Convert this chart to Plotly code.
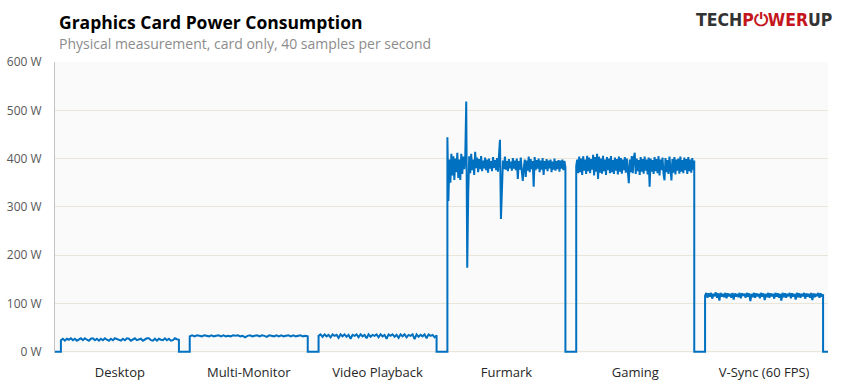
import numpy as np
import plotly.graph_objects as go

# ---------------- data ----------------
tests = ["Desktop", "Multi-Monitor", "Video Playback", "Furmark", "Gaming", "V-Sync (60 FPS)"]
# test time windows in seconds (start, end)
test_start = [3.0, 68.5, 134.0, 199.5, 265.0, 330.5]
test_end = [63.0, 128.5, 194.0, 259.5, 325.0, 390.5]
t_total = 393.0

y_ticks = [0, 100, 200, 300, 400, 500, 600]
y_tick_labels = ["0 W", "100 W", "200 W", "300 W", "400 W", "500 W", "600 W"]

desktop_w = [24, 27, 23, 27, 25, 28, 24, 27, 23, 26, 28, 24, 28, 25, 23, 27, 28, 24, 27, 23,
             27, 24, 28, 25, 23, 27, 24, 28, 26, 24, 23, 27, 24, 28, 27, 23, 26, 28, 24, 25,
             27, 23, 26, 28, 28, 24, 23, 27, 23, 27, 25, 24, 28, 24, 27, 23, 24, 28, 26, 25]
multimon_w = [32, 34, 32, 34, 33, 32, 34, 33, 32, 34, 32, 33, 34, 32, 34, 32, 33, 32, 34, 33,
              34, 32, 33, 30, 33, 34, 32, 33, 34, 32, 34, 33, 31, 34, 33, 32, 34, 32, 34, 32,
              33, 34, 32, 34, 32, 33, 34, 32, 33, 32]
video_w = [33, 36, 31, 36, 32, 35, 30, 36, 33, 35, 29, 36, 32, 36, 31, 35, 27, 35, 33, 36,
           30, 36, 32, 35, 28, 36, 31, 35, 33, 36, 30, 36, 32, 35, 27, 36, 33, 36, 31, 35,
           29, 36, 32, 36, 30, 35, 33, 36, 26, 36, 31, 35, 32, 36, 28, 36, 33, 35, 30, 34]
furmark_w = [444, 312, 398, 350, 410, 365, 405, 356, 400, 372, 412, 360, 398, 356, 410, 368,
             404, 378, 402, 518, 174, 330, 405, 370, 410, 376, 398, 366, 414, 380, 402, 372,
             399, 378, 405, 374, 396, 380, 402, 376, 398, 371, 400, 379, 395, 374, 403, 381,
             397, 376, 401, 373, 398, 439, 275, 372, 396, 378, 404, 377, 395, 374, 399, 380,
             394, 375, 401, 379, 396, 376, 400, 358, 395, 377, 402, 374, 354, 380, 398, 362,
             396, 375, 404, 372, 399, 378, 395, 342, 403, 376, 397, 379, 400, 372, 396, 377,
             401, 366, 395, 378, 399, 374, 396, 380, 398, 372, 394, 377, 400, 375, 395, 378,
             397, 373, 396, 379, 398, 376, 395, 382]
gaming_w = [385, 398, 370, 404, 372, 400, 366, 405, 375, 398, 368, 406, 374, 402, 370, 399,
            377, 408, 365, 403, 373, 410, 358, 404, 371, 400, 369, 406, 374, 398, 366, 403,
            376, 400, 370, 405, 372, 397, 368, 402, 375, 399, 367, 404, 373, 401, 369, 398,
            376, 403, 371, 400, 364, 349, 398, 372, 405, 370, 402, 412, 368, 400, 374, 397,
            366, 403, 373, 399, 369, 404, 375, 398, 367, 402, 342, 400, 373, 397, 368, 403,
            374, 399, 370, 405, 365, 398, 376, 402, 369, 355, 401, 372, 397, 368, 404, 374,
            355, 399, 371, 403, 367, 398, 375, 400, 369, 404, 373, 397, 370, 402, 376, 399,
            368, 403, 374, 398, 371, 401, 377, 396]
vsync_w = [116, 122, 112, 121, 114, 122, 110, 120, 115, 123, 112, 121, 106, 122, 114, 120,
           113, 122, 111, 121, 115, 120, 112, 122, 108, 121, 114, 120, 113, 122, 111, 121,
           116, 120, 112, 122, 114, 121, 105, 120, 113, 122, 112, 121, 115, 120, 111, 122,
           114, 121, 107, 120, 113, 122, 112, 121, 115, 120, 110, 122, 114, 121, 112, 120,
           106, 122, 113, 121, 112, 120, 115, 122, 111, 121, 114, 120, 108, 122, 113, 121,
           112, 120, 115, 122, 110, 121, 114, 120, 112, 122, 107, 121, 113, 120, 115, 122,
           112, 121, 114, 119]
series = [desktop_w, multimon_w, video_w, furmark_w, gaming_w, vsync_w]

# ---------------- build time series ----------------
xs, ys = [0.0], [0.0]
for s, e, vals in zip(test_start, test_end, series):
    xs.append(s); ys.append(0.0)
    xs.extend(np.linspace(s, e, len(vals)).tolist()); ys.extend(vals)
    xs.append(e); ys.append(0.0)
xs.append(t_total); ys.append(0.0)

centers = [(s + e) / 2 for s, e in zip(test_start, test_end)]

BLUE = "#0070c0"
FONT = "Open Sans"

fig = go.Figure()
fig.add_trace(go.Scatter(x=xs, y=ys, mode="lines",
                         line=dict(color=BLUE, width=2), hoverinfo="skip",
                         showlegend=False))

fig.update_layout(
    width=841, height=387,
    margin=dict(l=55, r=13, t=62, b=34, pad=0),
    paper_bgcolor="white",
    plot_bgcolor="#fafafa",
    font=dict(family=FONT, color="#404040"),
    xaxis=dict(range=[0, t_total], tickvals=centers, ticktext=tests,
               showgrid=False, zeroline=False, showline=False, ticks="",
               ticklabelstandoff=10, automargin=False,
               tickfont=dict(size=13, color="#262626", family=FONT)),
    yaxis=dict(range=[-2.5, 600], tickvals=y_ticks, ticktext=y_tick_labels,
               showgrid=True, gridcolor="#e9e5d8", gridwidth=1,
               zeroline=False, showline=True, linecolor="#c4c4c4", linewidth=1,
               ticks="", ticklabelstandoff=10, automargin=False,
               tickfont=dict(size=12, color="#595959", family=FONT)),
)

fig.add_annotation(xref="paper", yref="paper", x=0.002, y=1.138,
                   xanchor="left", yanchor="middle", showarrow=False,
                   text="<b>Graphics Card Power Consumption</b>",
                   font=dict(size=17.5, color="black", family=FONT))
fig.add_annotation(xref="paper", yref="paper", x=0.002, y=1.062,
                   xanchor="left", yanchor="middle", showarrow=False,
                   text="Physical measurement, card only, 40 samples per second",
                   font=dict(size=14, color="#8c8c8c", family=FONT))
fig.add_annotation(xref="paper", yref="paper", x=1.008, y=1.145,
                   xanchor="right", yanchor="middle", showarrow=False,
                   text="<b><span style='color:#333333'>TECH</span>"
                        "<span style='color:#c4161c'>P⏻WER</span>"
                        "<span style='color:#333333'>UP</span></b>",
                   font=dict(size=17.5, family="DejaVu Sans Condensed"))

fig.write_html("out.html", config={"displayModeBar": False},
               post_script="document.body.style.margin='0';")
